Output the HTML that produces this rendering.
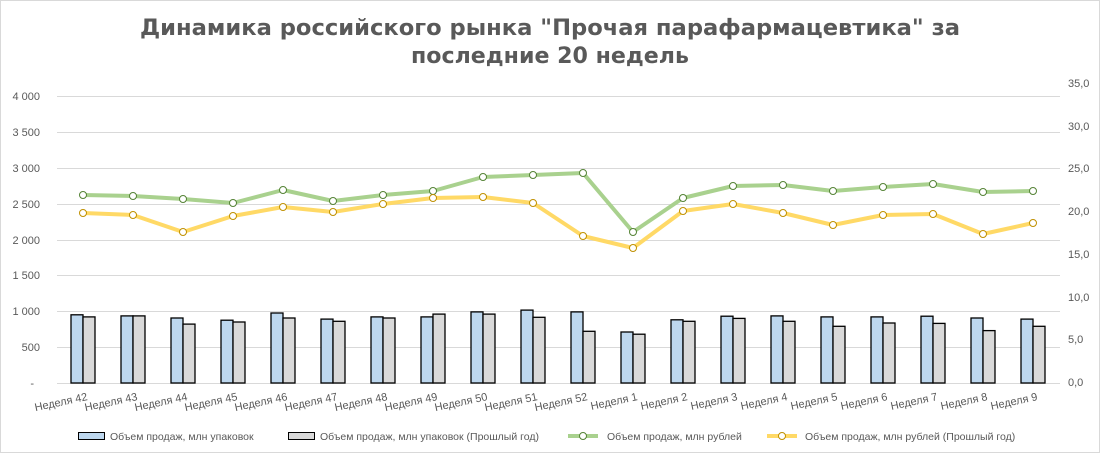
<!DOCTYPE html>
<html><head><meta charset="utf-8"><style>
body{margin:0;background:#fff}
svg{display:block;font-family:"Liberation Sans","DejaVu Sans",sans-serif}
</style></head><body>
<svg width="1100" height="458" viewBox="0 0 1100 458" xmlns="http://www.w3.org/2000/svg">
<rect x="0.5" y="0.5" width="1099" height="452" fill="#fff" stroke="#d9d9d9"/>
<g font-family="DejaVu Sans, sans-serif" font-size="22" font-weight="bold" fill="#595959" text-anchor="middle">
<text x="550" y="35" textLength="820" lengthAdjust="spacingAndGlyphs">Динамика российского рынка "Прочая парафармацевтика" за</text>
<text x="550" y="63" textLength="278" lengthAdjust="spacingAndGlyphs">последние 20 недель</text>
</g>
<g stroke="#d9d9d9" stroke-width="1">
<line x1="57" x2="1060" y1="96.5" y2="96.5"/><line x1="57" x2="1060" y1="132.5" y2="132.5"/>
<line x1="57" x2="1060" y1="168.5" y2="168.5"/><line x1="57" x2="1060" y1="204.5" y2="204.5"/>
<line x1="57" x2="1060" y1="240.5" y2="240.5"/><line x1="57" x2="1060" y1="275.5" y2="275.5"/>
<line x1="57" x2="1060" y1="311.5" y2="311.5"/><line x1="57" x2="1060" y1="347.5" y2="347.5"/>
<line x1="57" x2="1060" y1="383.5" y2="383.5"/>
</g>
<g font-size="11" fill="#595959" text-anchor="end">
<text x="40" y="100">4 000</text><text x="40" y="136">3 500</text><text x="40" y="172">3 000</text>
<text x="40" y="208">2 500</text><text x="40" y="244">2 000</text><text x="40" y="279">1 500</text>
<text x="40" y="315">1 000</text><text x="40" y="351">500</text><text x="34" y="387">-</text>
</g>
<g font-size="11" fill="#595959" text-anchor="start">
<text x="1068" y="87">35,0</text><text x="1068" y="130">30,0</text><text x="1068" y="172">25,0</text>
<text x="1068" y="215">20,0</text><text x="1068" y="258">15,0</text><text x="1068" y="301">10,0</text>
<text x="1068" y="343">5,0</text><text x="1068" y="386">0,0</text>
</g>
<g stroke="#000" stroke-width="1.3">
<g fill="#bdd7ee">
<rect x="71" y="314.8" width="12" height="68.2"/><rect x="121" y="315.9" width="12" height="67.1"/>
<rect x="171" y="318" width="12" height="65"/><rect x="221" y="320.2" width="12" height="62.8"/>
<rect x="271" y="313" width="12" height="70"/><rect x="321" y="319.1" width="12" height="63.9"/>
<rect x="371" y="316.9" width="12" height="66.1"/><rect x="421" y="316.9" width="12" height="66.1"/>
<rect x="471" y="311.9" width="12" height="71.1"/><rect x="521" y="310.1" width="12" height="72.9"/>
<rect x="571" y="311.9" width="12" height="71.1"/><rect x="621" y="332" width="12" height="51"/>
<rect x="671" y="319.8" width="12" height="63.2"/><rect x="721" y="316.2" width="12" height="66.8"/>
<rect x="771" y="315.9" width="12" height="67.1"/><rect x="821" y="316.9" width="12" height="66.1"/>
<rect x="871" y="316.9" width="12" height="66.1"/><rect x="921" y="316.2" width="12" height="66.8"/>
<rect x="971" y="318" width="12" height="65"/><rect x="1021" y="319.1" width="12" height="63.9"/>
</g>
<g fill="#d9d9d9">
<rect x="83" y="316.9" width="12" height="66.1"/><rect x="133" y="315.9" width="12" height="67.1"/>
<rect x="183" y="324.1" width="12" height="58.9"/><rect x="233" y="322" width="12" height="61"/>
<rect x="283" y="318" width="12" height="65"/><rect x="333" y="321.3" width="12" height="61.7"/>
<rect x="383" y="318" width="12" height="65"/><rect x="433" y="314.1" width="12" height="68.9"/>
<rect x="483" y="314.1" width="12" height="68.9"/><rect x="533" y="317.3" width="12" height="65.7"/>
<rect x="583" y="331.3" width="12" height="51.7"/><rect x="633" y="334.2" width="12" height="48.8"/>
<rect x="683" y="321.3" width="12" height="61.7"/><rect x="733" y="318.4" width="12" height="64.6"/>
<rect x="783" y="321.3" width="12" height="61.7"/><rect x="833" y="326.3" width="12" height="56.7"/>
<rect x="883" y="323" width="12" height="60"/><rect x="933" y="323.4" width="12" height="59.6"/>
<rect x="983" y="330.6" width="12" height="52.4"/><rect x="1033" y="326.3" width="12" height="56.7"/>
</g>
</g>
<polyline fill="none" stroke="#a9d18e" stroke-width="4" stroke-linejoin="round" points="83,195 133,196 183,199 233,203 283,190 333,201 383,195 433,191 483,177 533,175 583,173 633,232 683,198 733,186 783,185 833,191 883,187 933,184 983,192 1033,191"/>
<polyline fill="none" stroke="#ffd966" stroke-width="4" stroke-linejoin="round" points="83,213 133,215 183,232 233,216 283,207 333,212 383,204 433,198 483,197 533,203 583,236 633,248 683,211 733,204 783,213 833,225 883,215 933,214 983,234 1033,223"/>
<g fill="#fff" stroke="#548235">
<circle cx="83" cy="195" r="3.5"/><circle cx="133" cy="196" r="3.5"/><circle cx="183" cy="199" r="3.5"/><circle cx="233" cy="203" r="3.5"/><circle cx="283" cy="190" r="3.5"/><circle cx="333" cy="201" r="3.5"/><circle cx="383" cy="195" r="3.5"/><circle cx="433" cy="191" r="3.5"/><circle cx="483" cy="177" r="3.5"/><circle cx="533" cy="175" r="3.5"/><circle cx="583" cy="173" r="3.5"/><circle cx="633" cy="232" r="3.5"/><circle cx="683" cy="198" r="3.5"/><circle cx="733" cy="186" r="3.5"/><circle cx="783" cy="185" r="3.5"/><circle cx="833" cy="191" r="3.5"/><circle cx="883" cy="187" r="3.5"/><circle cx="933" cy="184" r="3.5"/><circle cx="983" cy="192" r="3.5"/><circle cx="1033" cy="191" r="3.5"/>
</g>
<g fill="#fff" stroke="#bf9000">
<circle cx="83" cy="213" r="3.5"/><circle cx="133" cy="215" r="3.5"/><circle cx="183" cy="232" r="3.5"/><circle cx="233" cy="216" r="3.5"/><circle cx="283" cy="207" r="3.5"/><circle cx="333" cy="212" r="3.5"/><circle cx="383" cy="204" r="3.5"/><circle cx="433" cy="198" r="3.5"/><circle cx="483" cy="197" r="3.5"/><circle cx="533" cy="203" r="3.5"/><circle cx="583" cy="236" r="3.5"/><circle cx="633" cy="248" r="3.5"/><circle cx="683" cy="211" r="3.5"/><circle cx="733" cy="204" r="3.5"/><circle cx="783" cy="213" r="3.5"/><circle cx="833" cy="225" r="3.5"/><circle cx="883" cy="215" r="3.5"/><circle cx="933" cy="214" r="3.5"/><circle cx="983" cy="234" r="3.5"/><circle cx="1033" cy="223" r="3.5"/>
</g>
<g font-size="11" fill="#595959" text-anchor="end">
<text x="88" y="400" transform="rotate(-12 88 400)">Неделя 42</text>
<text x="138" y="400" transform="rotate(-12 138 400)">Неделя 43</text>
<text x="188" y="400" transform="rotate(-12 188 400)">Неделя 44</text>
<text x="238" y="400" transform="rotate(-12 238 400)">Неделя 45</text>
<text x="288" y="400" transform="rotate(-12 288 400)">Неделя 46</text>
<text x="338" y="400" transform="rotate(-12 338 400)">Неделя 47</text>
<text x="388" y="400" transform="rotate(-12 388 400)">Неделя 48</text>
<text x="438" y="400" transform="rotate(-12 438 400)">Неделя 49</text>
<text x="488" y="400" transform="rotate(-12 488 400)">Неделя 50</text>
<text x="538" y="400" transform="rotate(-12 538 400)">Неделя 51</text>
<text x="588" y="400" transform="rotate(-12 588 400)">Неделя 52</text>
<text x="638" y="400" transform="rotate(-12 638 400)">Неделя 1</text>
<text x="688" y="400" transform="rotate(-12 688 400)">Неделя 2</text>
<text x="738" y="400" transform="rotate(-12 738 400)">Неделя 3</text>
<text x="788" y="400" transform="rotate(-12 788 400)">Неделя 4</text>
<text x="838" y="400" transform="rotate(-12 838 400)">Неделя 5</text>
<text x="888" y="400" transform="rotate(-12 888 400)">Неделя 6</text>
<text x="938" y="400" transform="rotate(-12 938 400)">Неделя 7</text>
<text x="988" y="400" transform="rotate(-12 988 400)">Неделя 8</text>
<text x="1038" y="400" transform="rotate(-12 1038 400)">Неделя 9</text>
</g>
<g font-size="10.5" fill="#595959">
<rect x="78.5" y="432.5" width="26" height="7" fill="#bdd7ee" stroke="#000"/>
<text x="110" y="440">Объем продаж, млн упаковок</text>
<rect x="288.5" y="432.5" width="26" height="7" fill="#d9d9d9" stroke="#000"/>
<text x="320" y="440">Объем продаж, млн упаковок (Прошлый год)</text>
<line x1="568" x2="598" y1="436" y2="436" stroke="#a9d18e" stroke-width="4"/>
<circle cx="583" cy="436" r="3.5" fill="#fff" stroke="#548235"/>
<text x="607" y="440">Объем продаж, млн рублей</text>
<line x1="767" x2="797" y1="436" y2="436" stroke="#ffd966" stroke-width="4"/>
<circle cx="782" cy="436" r="3.5" fill="#fff" stroke="#bf9000"/>
<text x="805" y="440">Объем продаж, млн рублей (Прошлый год)</text>
</g>
</svg>
</body></html>
